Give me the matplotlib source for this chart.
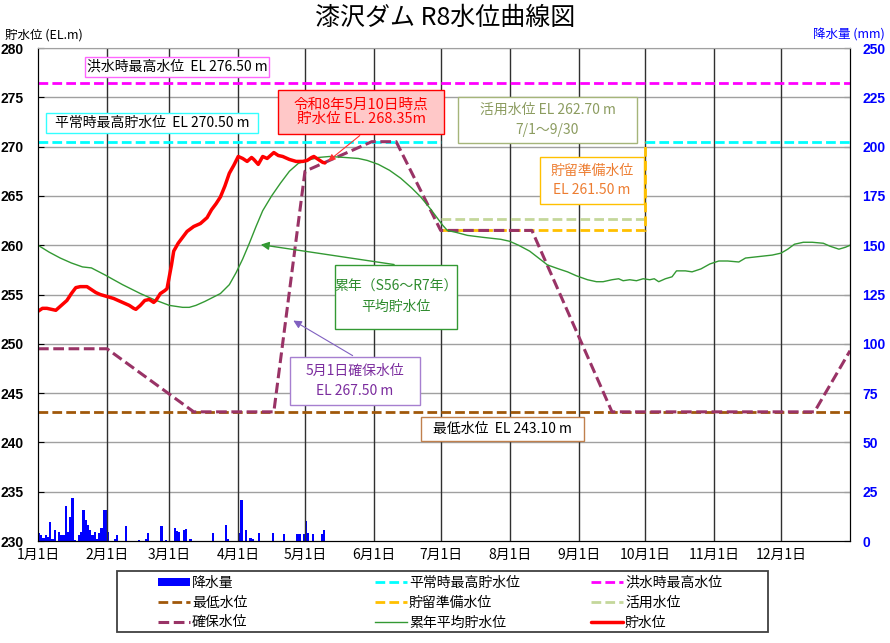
import numpy as np
import matplotlib
matplotlib.use('Agg')
import matplotlib.pyplot as plt
from matplotlib.patches import Rectangle

plt.rcParams['font.family'] = ['Noto Sans CJK JP', 'DejaVu Sans']

### Data ###
#++++++++++++++++++++++++++++++++++++++++++++++++++++++++++++++++#
# x = day of year (1月1日 = 0)
month_days = [0, 31, 59, 90, 120, 151, 181, 212, 243, 273, 304, 334, 365]
month_labels = ['1月1日', '2月1日', '3月1日', '4月1日', '5月1日', '6月1日',
                '7月1日', '8月1日', '9月1日', '10月1日', '11月1日', '12月1日']

flood_level = 276.5      # 洪水時最高水位
normal_level = 270.5     # 平常時最高貯水位
min_level = 243.1        # 最低水位
use_level = 262.7        # 活用水位
prep_level = 261.5       # 貯留準備水位

# 平常時最高貯水位 (not applied 7/1-9/30)
normal_days = [0, 181, 181, 273, 365]
normal_vals = [normal_level, normal_level, np.nan, normal_level, normal_level]

# 貯留準備水位
prep_days = [181, 273, 273]
prep_vals = [prep_level, prep_level, normal_level]

# 活用水位
use_days = [181, 273]
use_vals = [use_level, use_level]

# 確保水位
secure_days = [0, 31, 70, 106, 120, 150, 161, 181, 222, 258, 349, 365]
secure_vals = [249.5, 249.5, 243.1, 243.1, 267.5, 270.5, 270.5, 261.5, 261.5,
               243.1, 243.1, 249.3]

# 累年平均貯水位
avg_days = [0, 5, 10, 15, 20, 24, 30, 38, 46, 52, 59, 65, 68, 71, 75, 82, 86, 89,
            92, 95, 98, 101, 105, 109, 113, 117, 121, 126, 131, 138, 144, 148,
            153, 158, 163, 168, 172, 176, 179, 182, 184, 188, 193, 200, 208, 212,
            216, 221, 225, 229, 234, 238, 242, 247, 251, 254, 258, 261, 263, 266,
            269, 272, 275, 277, 279, 282, 285, 287, 291, 294, 298, 302, 306, 310,
            315, 318, 322, 330, 334, 337, 340, 344, 348, 353, 356, 360, 363, 365]
avg_vals = [260.0, 259.3, 258.7, 258.2, 257.8, 257.7, 257.0, 256.0, 255.1, 254.5,
            253.9, 253.7, 253.7, 253.9, 254.3, 255.1, 256.0, 257.2, 258.6, 260.2,
            261.9, 263.5, 265.0, 266.3, 267.5, 268.3, 268.6, 268.9, 269.0, 268.9,
            268.8, 268.6, 268.2, 267.6, 266.8, 265.8, 264.9, 263.8, 262.9, 262.0,
            261.5, 261.3, 261.0, 260.8, 260.6, 260.4, 260.0, 259.4, 258.7, 258.0,
            257.6, 257.3, 256.9, 256.5, 256.3, 256.3, 256.5, 256.6, 256.4, 256.5,
            256.4, 256.6, 256.5, 256.6, 256.3, 256.6, 256.8, 257.4, 257.4, 257.3,
            257.6, 258.1, 258.4, 258.4, 258.3, 258.7, 258.8, 259.0, 259.2, 259.6,
            260.1, 260.3, 260.3, 260.2, 259.9, 259.6, 259.8, 260.0]

# 貯水位 (R8, up to 5/10)
level_days = [0, 2, 4, 6, 8, 10, 13, 15, 17, 19, 22, 24, 26, 28, 31, 34, 37, 41,
              43, 44, 46, 48, 50, 52, 53, 55, 57, 58, 60, 61, 63, 65, 67, 70, 73,
              76, 78, 80, 82, 84, 86, 88, 90, 92, 94, 96, 97, 99, 101, 103, 104,
              106, 108, 110, 113, 116, 119, 121, 123, 124, 126, 128, 129]
level_vals = [253.3, 253.6, 253.6, 253.5, 253.4, 253.8, 254.4, 255.1, 255.7, 255.8,
              255.8, 255.5, 255.2, 255.0, 254.8, 254.6, 254.3, 253.9, 253.6, 253.5,
              253.9, 254.4, 254.5, 254.2, 254.4, 255.1, 255.4, 255.6, 258.0, 259.4,
              260.2, 260.8, 261.4, 261.9, 262.2, 262.8, 263.6, 264.2, 264.9, 266.0,
              267.3, 268.1, 269.0, 268.8, 268.5, 268.9, 268.7, 268.2, 269.0, 268.8,
              269.0, 269.4, 269.1, 269.0, 268.7, 268.5, 268.5, 268.6, 268.9, 269.0,
              268.7, 268.4, 268.35]

# 降水量 (mm)
rain_days = [0, 1, 2, 3, 4, 5, 6, 7, 9, 10, 11, 12, 13, 14, 15, 16, 18, 19, 20,
             21, 22, 23, 24, 25, 26, 27, 28, 29, 30, 31, 34, 35, 39, 45, 48, 49,
             55, 57, 61, 62, 63, 65, 66, 68, 78, 84, 85, 90, 91, 93, 95, 96, 99,
             105, 110, 116, 117, 119, 120, 121, 123, 127, 128]
rain_mm = [4, 3, 1.5, 3, 2, 9.5, 1, 5.6, 4.6, 3, 3, 17.7, 4.6, 12.3, 21.8, 0.5, 3,
           4.6, 15.8, 10.7, 8, 5.6, 3, 4.6, 1, 4, 6.7, 15.8, 15.8, 4.6, 1, 3, 7.6,
           0.5, 1, 4, 7.6, 0.5, 6.8, 5, 4.6, 5.4, 6, 1, 4, 8, 1, 4, 21, 5.4, 1.7,
           1, 4, 4, 3.4, 3.4, 3.4, 3.4, 10, 4, 3.4, 3.4, 5.4]
#++++++++++++++++++++++++++++++++++++++++++++++++++++++++++++++++#


# Plotting
#++++++++++++++++++++++++++++++++++++++++++++++++++++++++++++++++#
fig = plt.figure(figsize=(8.9, 6.43), dpi=100)
ax = fig.add_axes([0.0427, 0.1586, 0.9124, 0.7667])
ax2 = ax.twinx()
ax.set_zorder(ax2.get_zorder() + 1)
ax.patch.set_visible(False)

# rainfall bars (right axis)
bars = ax2.bar(rain_days, rain_mm, width=1.0, align='edge', color='#0000FF',
               label='降水量')
ax2.set_ylim(0, 250)
ax2.set_yticks(np.arange(0, 251, 25))
ax2.tick_params(axis='y', direction='in', length=4, labelcolor='#0000FF',
                labelsize=10, pad=9)
for t in ax2.get_yticklabels():
    t.set_fontweight('bold')
    t.set_family('Liberation Sans')

dash = (3.5, 1.5)
l_normal, = ax.plot(normal_days, normal_vals, color='#00FFFF', lw=2, dashes=dash,
                    label='平常時最高貯水位')
l_flood = ax.axhline(flood_level, color='#FF00FF', lw=2, dashes=dash,
                     label='洪水時最高水位')
l_min = ax.axhline(min_level, color='#A0580A', lw=2, dashes=dash, label='最低水位')
l_use, = ax.plot(use_days, use_vals, color='#C4D79B', lw=2, dashes=dash,
                 label='活用水位')
l_prep, = ax.plot(prep_days, prep_vals, color='#FFC000', lw=2, dashes=dash,
                  label='貯留準備水位')
l_secure, = ax.plot(secure_days, secure_vals, color='#993366', lw=2.2, dashes=dash,
                    label='確保水位')
l_avg, = ax.plot(avg_days, avg_vals, color='#339933', lw=1, label='累年平均貯水位')
l_level, = ax.plot(level_days, level_vals, color='#FF0000', lw=2.5,
                   solid_capstyle='round', label='貯水位')

ax.set_xlim(0, 365)
ax.set_ylim(230, 280)
ax.set_yticks(np.arange(230, 281, 5))
ax.set_xticks(month_days[:-1])
ax.set_xticklabels(month_labels, fontsize=10)
ax.tick_params(axis='x', length=0, pad=5)
ax.tick_params(axis='y', direction='in', length=4, labelsize=10, pad=10)
for t in ax.get_yticklabels():
    t.set_fontweight('bold')
    t.set_family('Liberation Sans')

# grid
for d in month_days[1:-1]:
    ax.axvline(d, color='#303030', lw=1, zorder=0.5)
for v in np.arange(235, 281, 5):
    ax.axhline(v, color='#A0A0A0', lw=1, zorder=0.4)
ax.spines['top'].set_color('#A0A0A0')
ax2.spines['top'].set_visible(False)

# titles
fig.text(0.5, 0.972, '漆沢ダム R8水位曲線図', ha='center', va='center', fontsize=18)
fig.text(0.006, 0.945, '貯水位 (EL.m)', ha='left', va='center', fontsize=9)
fig.text(0.994, 0.945, '降水量 (mm)', ha='right', va='center', fontsize=9,
         color='#0000FF')

# annotation boxes (width/height in pixels)
px_day = 812 / 365.0
px_el = 493 / 50.0

def box(x, y, w, h, s, tc, ec, fc='white', fs=10, ls=1.3):
    wd = w / px_day
    hd = h / px_el
    ax.add_patch(Rectangle((x - wd / 2, y - hd / 2), wd, hd, fc=fc, ec=ec,
                           lw=1, zorder=5.5))
    ax.text(x, y, s, ha='center', va='center', fontsize=fs, color=tc,
            linespacing=ls, zorder=6)

box(62.5, 278.07, 184, 20, '洪水時最高水位  EL 276.50 m', 'black', '#FF66FF')
box(51.2, 272.39, 212, 20, '平常時最高貯水位  EL 270.50 m', 'black', '#33FFFF')
box(145.2, 273.5, 166, 44, '令和8年5月10日時点\n貯水位 EL. 268.35m', '#FF0000',
    '#FF0000', fc='#FFC8C8', fs=10.5, ls=1.0)
box(229.0, 272.7, 179, 46, '活用水位 EL 262.70 m\n7/1～9/30', '#8C9C60', '#A5B57A',
    ls=1.5)
box(249.0, 266.56, 104, 47, '貯留準備水位\nEL 261.50 m', '#ED7D31', '#FFC000',
    ls=1.5)
box(160.9, 254.75, 122, 64, '累年（S56～R7年）\n平均貯水位', '#2E8B2E', '#339933',
    ls=1.6)
box(142.5, 246.23, 130, 48, '5月1日確保水位\nEL 267.50 m', '#7B2C9E', '#A67FD0',
    ls=1.6)
box(208.8, 241.36, 163, 24, '最低水位  EL 243.10 m', 'black', '#C0804D')

# arrows
ax.annotate('', xy=(level_days[-1] + 0.5, level_vals[-1]), xytext=(145.6, 271.3),
            arrowprops=dict(arrowstyle='-|>', color='#FF3030', lw=0.8,
                            mutation_scale=10), zorder=5)
ax.annotate('', xy=(98.9, 260.1), xytext=(161.3, 258.0),
            arrowprops=dict(arrowstyle='-|>', color='#339933', lw=1,
                            mutation_scale=12), zorder=5)
ax.annotate('', xy=(113.7, 252.5), xytext=(142.5, 248.66),
            arrowprops=dict(arrowstyle='-|>', color='#8060C0', lw=0.8,
                            mutation_scale=12), zorder=5)

# legend: three fixed columns inside one frame
fig.patches.append(Rectangle((0.1315, 0.0171), 0.7315, 0.0956,
                             transform=fig.transFigure, fc='white',
                             ec='#404040', lw=1.3))
legend_cols = [[bars, l_min, l_secure],
               [l_normal, l_prep, l_avg],
               [l_flood, l_use, l_level]]
col_x = [0.1775, 0.4213, 0.664]
for hs, cx in zip(legend_cols, col_x):
    fig.legend(hs, [h.get_label() for h in hs], loc='upper left',
               bbox_to_anchor=(cx, 0.1045), frameon=False, fontsize=10,
               handlelength=2.3, handleheight=0.55, handletextpad=0.15,
               labelspacing=0.42, borderpad=0, borderaxespad=0)

fig.savefig('out.png', dpi=100)
